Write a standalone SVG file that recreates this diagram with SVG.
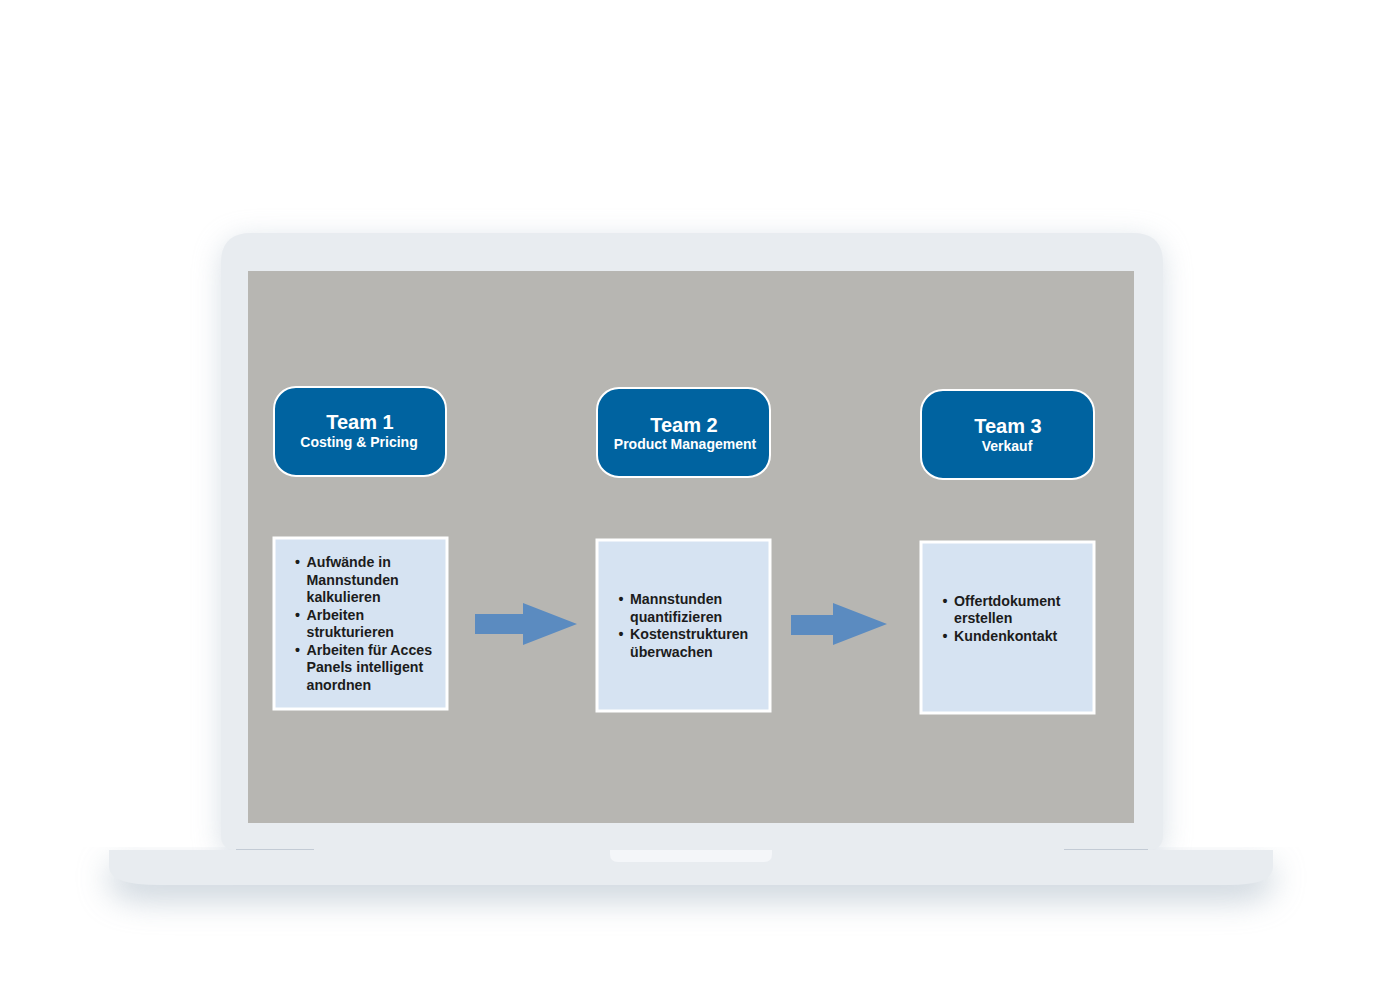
<svg xmlns="http://www.w3.org/2000/svg" width="1376" height="1000" viewBox="0 0 1376 1000">
<defs>
<filter id="soft" x="-20%" y="-20%" width="140%" height="160%">
<feGaussianBlur stdDeviation="14"/>
</filter>
<filter id="soft2" x="-20%" y="-50%" width="140%" height="300%">
<feGaussianBlur stdDeviation="16"/>
</filter>
<style>
.team{fill:#0063a0;stroke:#ffffff;stroke-width:2}
.box{fill:#d6e3f2;stroke:#ffffff;stroke-width:3}
.t1{font-family:"Liberation Sans",Arial,sans-serif;font-weight:bold;font-size:20px;fill:#ffffff;text-anchor:middle}
.t2{font-family:"Liberation Sans",Arial,sans-serif;font-weight:bold;font-size:14px;fill:#ffffff;text-anchor:middle}
.b{font-family:"Liberation Sans",Arial,sans-serif;font-weight:bold;font-size:14.2px;fill:#1c1c1c}
.arrow{fill:#5b8bc0}
</style>
</defs>
<rect width="1376" height="1000" fill="#ffffff"/>
<g id="laptop">
<path d="M221,263 Q221,233 251,233 H1133 Q1163,233 1163,263 V835 Q1163,850 1148,850 H236 Q221,850 221,835 Z" fill="#b9c6d2" opacity="0.55" filter="url(#soft)" transform="translate(0,6)"/>
<path d="M109,855 H1273 V872 Q1273,890 1230,890 H155 Q109,890 109,872 Z" fill="#a8b7c5" opacity="0.6" filter="url(#soft2)" transform="translate(0,10)"/>
<path d="M221,263 Q221,233 251,233 H1133 Q1163,233 1163,263 V835 Q1163,850 1148,850 H236 Q221,850 221,835 Z" fill="#e8ecf0"/>
<rect x="248" y="271" width="886" height="552" fill="#b7b6b2"/>
<path d="M109,850 H1273 V867 Q1273,885 1230,885 H160 Q109,885 109,867 Z" fill="#e8ecf0"/>
<line x1="236" y1="849.5" x2="314" y2="849.5" stroke="#c3cbd5" stroke-width="1.2"/>
<line x1="1064" y1="849.5" x2="1148" y2="849.5" stroke="#c3cbd5" stroke-width="1.2"/>
<path d="M610,850 H772 V854 Q772,862 764,862 H618 Q610,862 610,854 Z" fill="#f4f6f9"/>
</g>
<g id="team1">
<rect class="team" x="274" y="387" width="172" height="89" rx="22"/>
<text class="t1" x="360" y="429">Team 1</text>
<text class="t2" x="359" y="447">Costing &amp; Pricing</text>
</g>
<g id="team2">
<rect class="team" x="597" y="388" width="173" height="89" rx="22"/>
<text class="t1" x="684" y="432">Team 2</text>
<text class="t2" x="685" y="449">Product Management</text>
</g>
<g id="team3">
<rect class="team" x="921" y="390" width="173" height="89" rx="22"/>
<text class="t1" x="1008" y="433">Team 3</text>
<text class="t2" x="1007" y="451">Verkauf</text>
</g>
<g id="tasks1">
<rect class="box" x="274" y="538" width="173" height="171"/>
<text class="b"><tspan x="295" y="567">•</tspan><tspan x="306.5" y="567">Aufwände in</tspan><tspan x="306.5" y="584.5">Mannstunden</tspan><tspan x="306.5" y="602">kalkulieren</tspan><tspan x="295" y="619.5">•</tspan><tspan x="306.5" y="619.5">Arbeiten</tspan><tspan x="306.5" y="637">strukturieren</tspan><tspan x="295" y="654.5">•</tspan><tspan x="306.5" y="654.5">Arbeiten für Acces</tspan><tspan x="306.5" y="672">Panels intelligent</tspan><tspan x="306.5" y="689.5">anordnen</tspan></text>
</g>
<g id="tasks2">
<rect class="box" x="597" y="540" width="173" height="171"/>
<text class="b"><tspan x="618.5" y="604">•</tspan><tspan x="630" y="604">Mannstunden</tspan><tspan x="630" y="621.5">quantifizieren</tspan><tspan x="618.5" y="639">•</tspan><tspan x="630" y="639">Kostenstrukturen</tspan><tspan x="630" y="656.5">überwachen</tspan></text>
</g>
<g id="tasks3">
<rect class="box" x="921" y="542" width="173" height="171"/>
<text class="b"><tspan x="942.5" y="605.5">•</tspan><tspan x="954" y="605.5">Offertdokument</tspan><tspan x="954" y="623">erstellen</tspan><tspan x="942.5" y="640.5">•</tspan><tspan x="954" y="640.5">Kundenkontakt</tspan></text>
</g>
<g id="connectors">
<path class="arrow" d="M475,614 H523 V603 L577,624 L523,645 V634 H475 Z"/>
<path class="arrow" d="M791,615 H833 V603 L887,624 L833,645 V635 H791 Z"/>
</g>
</svg>
